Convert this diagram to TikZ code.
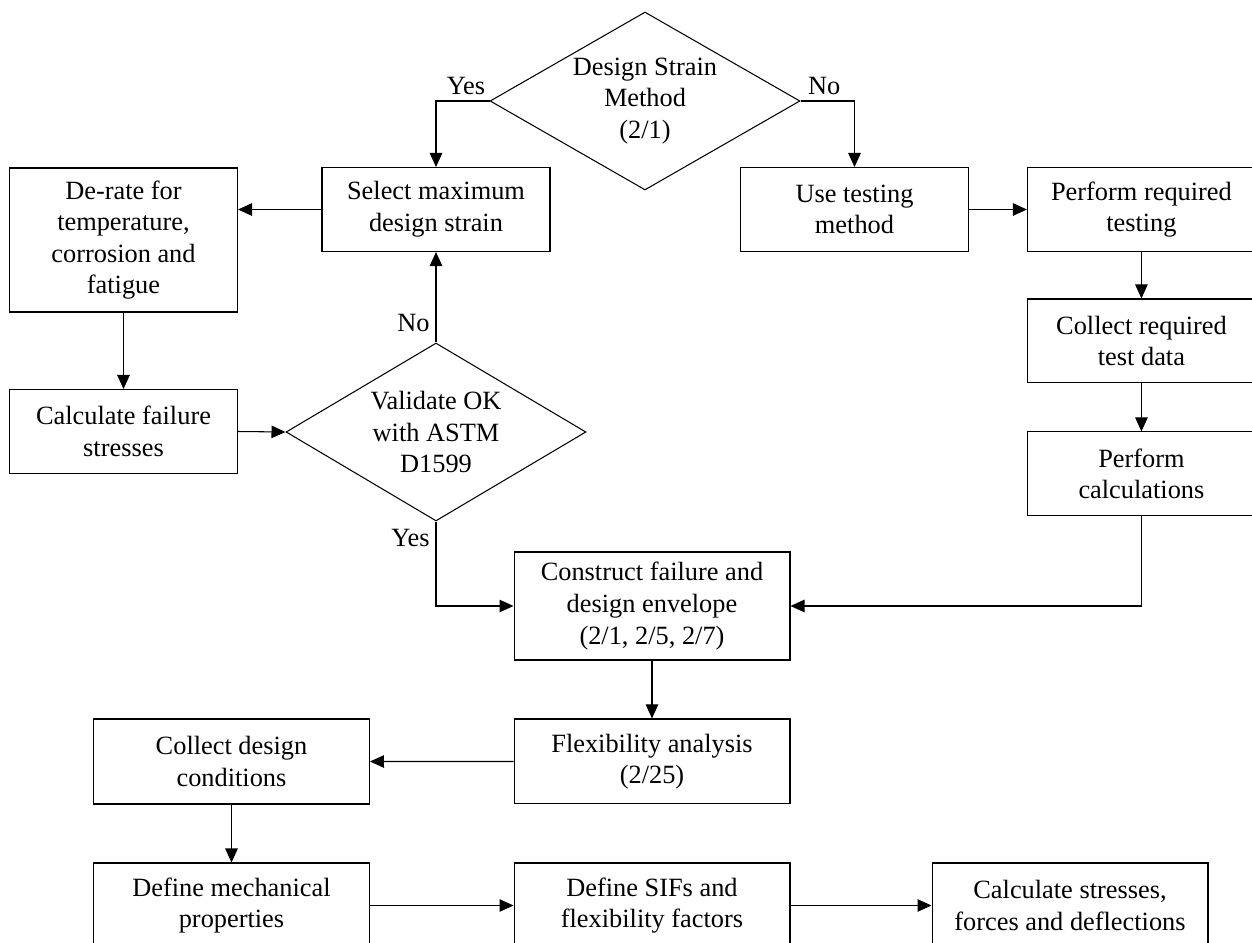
\documentclass[tikz,border=0pt]{standalone}
\usepackage{fontspec}
\setmainfont{Liberation Serif}
\usetikzlibrary{shapes.geometric, arrows.meta}

\begin{document}
\begin{tikzpicture}[x=0.02cm, y=-0.02cm, >={Triangle[length=0.28cm, width=0.25cm]},
  line width=0.6pt, font=\fontsize{15}{18}\selectfont,
  box/.style={rectangle, draw, align=center, inner sep=0pt, minimum width=4.56cm, minimum height=1.68cm},
  widebox/.style={box, minimum width=5.52cm, minimum height=1.7cm},
  decision/.style={diamond, draw, align=center, inner sep=0pt, aspect=1.74, minimum height=3.56cm}]

  \useasboundingbox (0,0) rectangle (1252,943);
  \clip (0,0) rectangle (1252,943);

  \node[decision, minimum width=6.2cm] (strain) at (645,101) {Design Strain\\Method\\(2/1)};
  \node[box] (select) at (436,209.5) {Select maximum\\design strain};
  \node[box, minimum height=2.88cm] (derate) at (123.5,240) {De-rate for\\temperature,\\corrosion and\\fatigue};
  \node[box] (usetest) at (854.5,209.5) {Use testing\\method};
  \node[box] (perftest) [right of=usetest, node distance=5.74cm] {Perform required\\testing};
  \node[box] (colltest) [below of=perftest, node distance=2.63cm] {Collect required\\test data};
  \node[box] (perfcalc) [below of=colltest, node distance=2.66cm] {Perform\\calculations};
  \node[box] (calcfail) at (123.5,431.5) {Calculate failure\\stresses};
  \node[decision, minimum width=6.0cm] (validate) at (436,432) {Validate OK\\with ASTM\\D1599};
  \node[widebox, minimum height=2.16cm] (construct) at (652,606) {Construct failure and\\design envelope\\(2/1, 2/5, 2/7)};
  \node[widebox] (flex) [below of=construct, node distance=3.11cm] {Flexibility analysis\\(2/25)};
  \node[widebox] (colldesign) at (231.5,761.5) {Collect design\\conditions};
  \node[widebox] (defmech) at (231.5,905.5) {Define mechanical\\properties};
  \node[widebox] (defsif) at (652,905.5) {Define SIFs and\\flexibility factors};
  \node[widebox] (calcstress) at (1070,905.5) {Calculate stresses,\\forces and deflections};

  % decisions
  \draw[->] (strain.west) -| node[pos=0.22, above] {Yes} (select.north);
  \draw[->] (strain.east) -| node[pos=0.22, above] {No} (usetest.north);
  \draw[->] (validate.north) -- node[pos=0.22, left] {No} (select.south);
  \draw[->] (validate.south) |- node[pos=0.1, left] {Yes} (construct.west);

  % flow
  \draw[->] (select.west) -- (derate.east |- select.west);
  \draw[->] (derate) -- (calcfail);
  \draw[->] (calcfail.east) -- (validate.west);
  \draw[->] (usetest) -- (perftest);
  \draw[->] (perftest) -- (colltest);
  \draw[->] (colltest) -- (perfcalc);
  \draw[->] (perfcalc.south) |- (construct.east);
  \draw[->] (construct) -- (flex);
  \draw[->] (flex) -- (colldesign);
  \draw[->] (colldesign) -- (defmech);
  \draw[->] (defmech) -- (defsif);
  \draw[->] (defsif) -- (calcstress);

\end{tikzpicture}
\end{document}
